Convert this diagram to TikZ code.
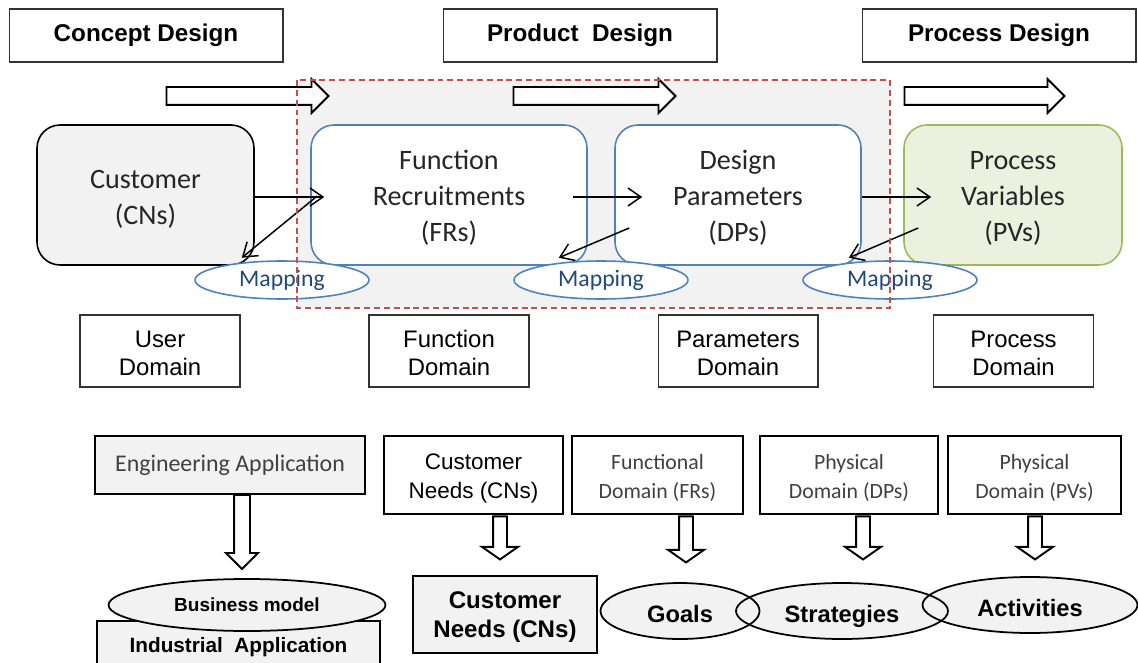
\documentclass[tikz,border=0pt]{standalone}
\usepackage{fontspec}
\setmainfont{Liberation Sans}
\newfontfamily\calibri{Carlito}
\usetikzlibrary{shapes.geometric,shapes.arrows,arrows.meta}
\definecolor{paneGray}{HTML}{F2F2F2}
\definecolor{frameBlue}{HTML}{4F81BD}
\definecolor{mapBlue}{HTML}{1F497D}
\definecolor{pvGreen}{HTML}{9BBB59}
\definecolor{pvFill}{HTML}{EBF1DE}
\definecolor{zoneRed}{HTML}{C0504D}
\definecolor{softText}{HTML}{404040}
\newcommand{\padtop}[1]{\rule{0pt}{#1}}

\begin{document}
\begin{tikzpicture}[x=0.02cm, y=-0.02cm,
	title/.style={draw=black!80, line width=0.6pt, minimum width=5.48cm, minimum height=1.06cm, inner sep=0pt, font=\fontsize{13.8}{15}\selectfont\bfseries},
	flow/.style={single arrow, draw=black, fill=white, line width=1.1pt, inner xsep=0pt, inner ysep=0.16cm, single arrow head extend=0.16cm, minimum height=3.24cm},
	drop/.style={single arrow, draw=black, fill=white, line width=1.1pt, rotate=-90, inner xsep=0pt, inner ysep=0.12cm, single arrow head extend=0.22cm, single arrow tip angle=110, minimum height=0.86cm},
	domainbox/.style={rounded corners=0.46cm, line width=0.9pt, minimum height=2.8cm, inner sep=0pt, align=center, text=black!85, font=\calibri\fontsize{16}{20.4}\selectfont},
	mapping/.style={ellipse, draw=frameBlue, line width=0.9pt, fill=white, minimum width=3.48cm, minimum height=0.76cm, inner sep=0pt, text=mapBlue, font=\calibri\fontsize{13.5}{15}\selectfont},
	link/.style={-{Straight Barb[length=0.26cm,width=0.36cm]}, line width=0.85pt},
	domlabel/.style={draw=black!80, line width=0.6pt, minimum width=3.2cm, minimum height=1.44cm, inner sep=0pt, align=center, font=\fontsize{13.6}{16}\selectfont},
	need/.style={draw=black, line width=1.1pt, minimum height=1.56cm, inner sep=0pt, align=center},
	result/.style={ellipse, draw=black, line width=1pt, minimum height=1.12cm, inner sep=0pt, text height=13.4pt, text depth=0pt, font=\fontsize{13.5}{15}\selectfont\bfseries}]
	\useasboundingbox (0,0) rectangle (1138,662);

	\node[title] (concept) at (146,35.5) {Concept Design};
	\node[title] (product) at (580,35.5) {Product\ \ Design};
	\node[title] (process) at (999,35.5) {Process Design};

	\fill[paneGray] (297,80) rectangle (890,308);
	\node[flow] (flowa) at (243,96) {};
	\node[flow] (flowb) at (590,96) {};
	\node[flow, minimum height=3.2cm] (flowc) at (980,96) {};

	\node[domainbox, draw=black, fill=paneGray, minimum width=4.34cm] (customer) at (145.5,195) {\padtop{15pt}Customer\\(CNs)};
	\node[domainbox, draw=frameBlue, fill=white, minimum width=5.52cm] (frs) at (449,195) {\padtop{14.2pt}Function\\Recruitments\\(FRs)};
	\node[domainbox, draw=frameBlue, fill=white, minimum width=4.92cm] (dps) at (738,195) {\padtop{14.2pt}Design\\Parameters\\(DPs)};
	\node[domainbox, draw=pvGreen, fill=pvFill, minimum width=4.36cm] (pvs) at (1013,195) {\padtop{14.2pt}Process\\Variables\\(PVs)};

	\node[mapping] (mapa) at (282,280) {Mapping};
	\node[mapping] (mapb) at (601,280) {Mapping};
	\node[mapping] (mapc) at (890,280) {Mapping};

	\draw[link] ([yshift=-0.04cm]customer.east) -- ([xshift=0.28cm,yshift=-0.04cm]frs.west);
	\draw[link] ([xshift=0.14cm,yshift=-0.02cm]frs.west) -- ([xshift=-0.26cm,yshift=0.16cm]customer.south east);
	\draw[link] ([xshift=-0.3cm,yshift=-0.04cm]frs.east) -- ([xshift=0.56cm,yshift=-0.04cm]dps.west);
	\draw[link] ([xshift=0.3cm,yshift=-0.66cm]dps.west) -- ([xshift=-0.58cm,yshift=0.16cm]frs.south east);
	\draw[link] ([yshift=-0.04cm]dps.east) -- ([xshift=0.56cm,yshift=-0.04cm]pvs.west);
	\draw[link] ([xshift=0.3cm,yshift=-0.66cm]pvs.west) -- ([xshift=-0.26cm,yshift=0.16cm]dps.south east);

	\draw[zoneRed, line width=0.9pt, dash pattern=on 3.4pt off 2.2pt] (297,80) rectangle (890,308);

	\node[domlabel] (userdom) at (160,351) {\padtop{12pt}User\\Domain};
	\node[domlabel] (funcdom) at (449,351) {\padtop{12pt}Function\\Domain};
	\node[domlabel] (paramdom) at (738,351) {\padtop{12pt}Parameters\\Domain};
	\node[domlabel] (procdom) at (1013.5,351) {\padtop{12pt}Process\\Domain};

	\node[draw=black, line width=1.1pt, fill=paneGray, minimum width=5.4cm, minimum height=1.16cm, inner sep=0pt, text=softText, font=\calibri\fontsize{13.6}{15}\selectfont] (engapp) at (230,465) {Engineering Application};
	\node[drop, inner ysep=0.14cm, single arrow head extend=0.16cm, single arrow tip angle=90, minimum height=1.48cm] (engdrop) at (242,528) {};
	\node[draw=black, line width=1.1pt, fill=paneGray, minimum width=5.66cm, minimum height=1.04cm, inner sep=0pt, font=\fontsize{11.8}{14}\selectfont\bfseries] (indapp) at (238.5,647) {Industrial\ \ Application};
	\node[ellipse, draw=black, line width=1pt, fill=paneGray, minimum width=5.54cm, minimum height=1.04cm, inner sep=0pt, font=\fontsize{10.8}{13}\selectfont\bfseries] (business) at (247,605) {Business model};

	\node[need, minimum width=3.58cm, font=\fontsize{12.8}{16.4}\selectfont] (cnsneed) at (473.5,475) {\padtop{12.5pt}Customer\\Needs (CNs)};
	\node[need, minimum width=3.42cm, text=softText, font=\calibri\fontsize{12.4}{16}\selectfont] (frsneed) at (657.5,475) {\padtop{12pt}Functional\\Domain (FRs)};
	\node[need, minimum width=3.56cm, text=softText, font=\calibri\fontsize{12.4}{16}\selectfont] (dpsneed) at (849,475) {\padtop{12pt}Physical\\Domain (DPs)};
	\node[need, minimum width=3.46cm, text=softText, font=\calibri\fontsize{12.4}{16}\selectfont] (pvsneed) at (1034.5,475) {\padtop{12pt}Physical\\Domain (PVs)};

	\node[drop] (cnsdrop) at (500,535.5) {};
	\node[drop, minimum height=0.92cm] (frsdrop) at (686,537) {};
	\node[drop] (dpsdrop) at (863,535.5) {};
	\node[drop] (pvsdrop) at (1035,535.5) {};

	\node[need, fill=paneGray, minimum width=3.68cm, minimum height=1.54cm, font=\fontsize{13.7}{16.4}\selectfont\bfseries] (cnsbase) at (505,614.5) {\padtop{12.5pt}Customer\\Needs (CNs)};
	\fill[paneGray] (680,611) ellipse [x radius=79.5, y radius=28];
	\fill[paneGray] (842,611) ellipse [x radius=106, y radius=28];
	\fill[paneGray] (1030,605) ellipse [x radius=107.5, y radius=28];
	\node[result, minimum width=3.18cm] (goals) at (680,611) {Goals};
	\node[result, minimum width=4.24cm] (strategies) at (842,611) {Strategies};
	\node[result, minimum width=4.3cm] (activities) at (1030,605) {Activities};
\end{tikzpicture}
\end{document}
